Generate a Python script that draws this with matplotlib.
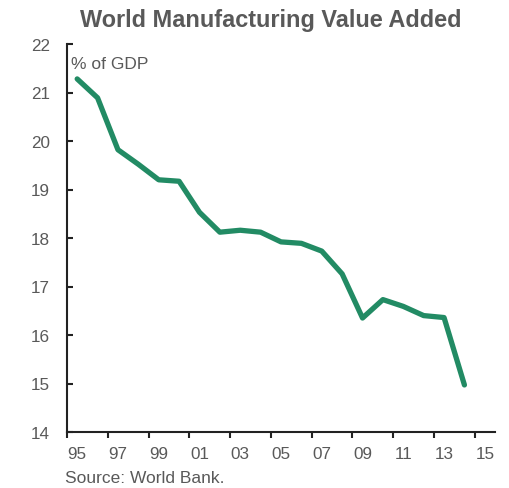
import matplotlib.pyplot as plt
import numpy as np

plt.rcParams["font.family"] = ["Liberation Sans", "DejaVu Sans"]

# World manufacturing value added, % of GDP
years = list(range(1995, 2015))
share_gdp = [21.28, 20.89, 19.82, 19.52, 19.20, 19.17, 18.53, 18.12, 18.16, 18.12,
             17.92, 17.89, 17.73, 17.26, 16.35, 16.73, 16.59, 16.40, 16.36, 14.97]
tick_years = list(range(1995, 2016, 2))
tick_labels = [f"{y % 100:02d}" for y in tick_years]

text_grey = "#595959"
line_green = "#228b64"

fig = plt.figure(figsize=(5.09, 4.89), dpi=100)
ax = fig.add_axes([67 / 509, 1 - 433 / 489, (495 - 67) / 509, (433 - 45) / 489])

# each year sits in the middle of its slot
ax.plot(np.array(years) + 0.5, share_gdp, color=line_green, linewidth=3.8,
        solid_capstyle="round", solid_joinstyle="round")

ax.set_xlim(1995, 2016)
ax.set_ylim(14, 22)
ax.set_yticks(range(14, 23))

# tick marks on year boundaries, labels centred on the year
ax.set_xticks(tick_years)
ax.set_xticklabels([])
ax.set_xticks(np.array(tick_years) + 0.5, minor=True)
ax.set_xticklabels(tick_labels, minor=True)
ax.tick_params(axis="x", which="major", direction="out", length=4.5, width=1.5, color="#222222")
ax.tick_params(axis="x", which="minor", length=0, pad=10, labelsize=12.3, labelcolor=text_grey)
ax.tick_params(axis="y", direction="in", length=4, width=1.5, color="#222222",
               pad=12.5, labelsize=12.3, labelcolor=text_grey)

for side in ("top", "right"):
    ax.spines[side].set_visible(False)
for side in ("left", "bottom"):
    ax.spines[side].set_linewidth(1.5)
    ax.spines[side].set_color("#222222")

fig.text(71 / 509, 1 - 69 / 489, "% of GDP", ha="left", va="baseline",
         fontsize=12.5, color=text_grey)

fig.text(271 / 509, 1 - 27 / 489, "World Manufacturing Value Added", ha="center",
         va="baseline", fontsize=16.9, fontweight="bold", color=text_grey)
fig.text(65 / 509, 1 - 483 / 489, "Source: World Bank.", ha="left", va="baseline",
         fontsize=12.5, color=text_grey)

fig.savefig("out.png", dpi=100)
